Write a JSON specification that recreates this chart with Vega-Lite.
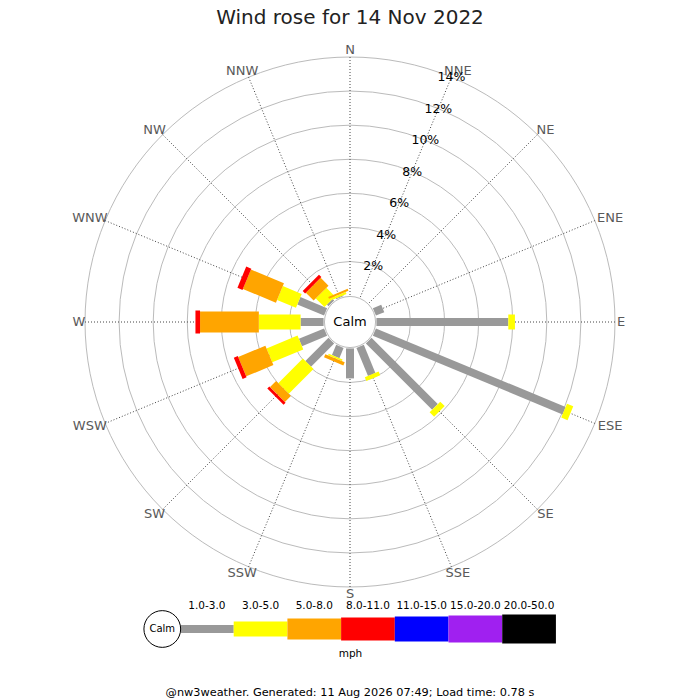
{
  "$schema": "https://vega.github.io/schema/vega-lite/v6.json",
  "description": "Wind rose for one day: share of time by direction and wind speed band",
  "background": "white",
  "padding": {"top": 8, "left": 0, "right": 0, "bottom": 0},
  "spacing": 0,
  "config": {"font": "DejaVu Sans", "view": {"stroke": null}},

  "datasets": {
    "dirs": [
      {"dir": "N", "b": 0}, {"dir": "NNE", "b": 22.5}, {"dir": "NE", "b": 45}, {"dir": "ENE", "b": 67.5},
      {"dir": "E", "b": 90}, {"dir": "ESE", "b": 112.5}, {"dir": "SE", "b": 135}, {"dir": "SSE", "b": 157.5},
      {"dir": "S", "b": 180}, {"dir": "SSW", "b": 202.5}, {"dir": "SW", "b": 225}, {"dir": "WSW", "b": 247.5},
      {"dir": "W", "b": 270}, {"dir": "WNW", "b": 292.5}, {"dir": "NW", "b": 315}, {"dir": "NNW", "b": 337.5}
    ],
    "rings": [{"pct": 2}, {"pct": 4}, {"pct": 6}, {"pct": 8}, {"pct": 10}, {"pct": 12}, {"pct": 14}],
    "calm": [{"label": "Calm"}],
    "rose": [
      {"dir": "ENE", "b": 67.5, "band": "1.0-3.0", "lo": 1, "pct": 0.53},
      {"dir": "E", "b": 90, "band": "1.0-3.0", "lo": 1, "pct": 7.74},
      {"dir": "E", "b": 90, "band": "3.0-5.0", "lo": 3, "pct": 0.39},
      {"dir": "ESE", "b": 112.5, "band": "1.0-3.0", "lo": 1, "pct": 12.05},
      {"dir": "ESE", "b": 112.5, "band": "3.0-5.0", "lo": 3, "pct": 0.4},
      {"dir": "SE", "b": 135, "band": "1.0-3.0", "lo": 1, "pct": 5.5},
      {"dir": "SE", "b": 135, "band": "3.0-5.0", "lo": 3, "pct": 0.37},
      {"dir": "SSE", "b": 157.5, "band": "1.0-3.0", "lo": 1, "pct": 1.78},
      {"dir": "SSE", "b": 157.5, "band": "3.0-5.0", "lo": 3, "pct": 0.24},
      {"dir": "S", "b": 180, "band": "1.0-3.0", "lo": 1, "pct": 1.76},
      {"dir": "SSW", "b": 202.5, "band": "1.0-3.0", "lo": 1, "pct": 0.65},
      {"dir": "SSW", "b": 202.5, "band": "3.0-5.0", "lo": 3, "pct": 0.1},
      {"dir": "SSW", "b": 202.5, "band": "5.0-8.0", "lo": 5, "pct": 0.2},
      {"dir": "SW", "b": 225, "band": "1.0-3.0", "lo": 1, "pct": 1.92},
      {"dir": "SW", "b": 225, "band": "3.0-5.0", "lo": 3, "pct": 2.05},
      {"dir": "SW", "b": 225, "band": "5.0-8.0", "lo": 5, "pct": 0.5},
      {"dir": "SW", "b": 225, "band": "8.0-11.0", "lo": 8, "pct": 0.17},
      {"dir": "WSW", "b": 247.5, "band": "1.0-3.0", "lo": 1, "pct": 1.6},
      {"dir": "WSW", "b": 247.5, "band": "3.0-5.0", "lo": 3, "pct": 1.97},
      {"dir": "WSW", "b": 247.5, "band": "5.0-8.0", "lo": 5, "pct": 1.73},
      {"dir": "WSW", "b": 247.5, "band": "8.0-11.0", "lo": 8, "pct": 0.25},
      {"dir": "W", "b": 270, "band": "1.0-3.0", "lo": 1, "pct": 1.35},
      {"dir": "W", "b": 270, "band": "3.0-5.0", "lo": 3, "pct": 2.45},
      {"dir": "W", "b": 270, "band": "5.0-8.0", "lo": 5, "pct": 3.45},
      {"dir": "W", "b": 270, "band": "8.0-11.0", "lo": 8, "pct": 0.27},
      {"dir": "WNW", "b": 292.5, "band": "1.0-3.0", "lo": 1, "pct": 1.7},
      {"dir": "WNW", "b": 292.5, "band": "3.0-5.0", "lo": 3, "pct": 1.2},
      {"dir": "WNW", "b": 292.5, "band": "5.0-8.0", "lo": 5, "pct": 2.1},
      {"dir": "WNW", "b": 292.5, "band": "8.0-11.0", "lo": 8, "pct": 0.32},
      {"dir": "NW", "b": 315, "band": "1.0-3.0", "lo": 1, "pct": 0.13},
      {"dir": "NW", "b": 315, "band": "3.0-5.0", "lo": 3, "pct": 0.72},
      {"dir": "NW", "b": 315, "band": "5.0-8.0", "lo": 5, "pct": 0.65},
      {"dir": "NW", "b": 315, "band": "8.0-11.0", "lo": 8, "pct": 0.2},
      {"dir": "NNW", "b": 337.5, "band": "1.0-3.0", "lo": 1, "pct": 0.05},
      {"dir": "NNW", "b": 337.5, "band": "3.0-5.0", "lo": 3, "pct": 0.13},
      {"dir": "NNW", "b": 337.5, "band": "5.0-8.0", "lo": 5, "pct": 0.12}
    ],
    "bands": [
      {"band": "1.0-3.0", "k": 0}, {"band": "3.0-5.0", "k": 1}, {"band": "5.0-8.0", "k": 2},
      {"band": "8.0-11.0", "k": 3}, {"band": "11.0-15.0", "k": 4}, {"band": "15.0-20.0", "k": 5},
      {"band": "20.0-50.0", "k": 6}
    ]
  },

  "vconcat": [
    {
      "width": 700,
      "height": 563,
      "title": {"text": "Wind rose for 14 Nov 2022", "fontSize": 20, "fontWeight": "normal", "color": "#222222", "anchor": "middle", "offset": 6},
      "layer": [
        {
          "data": {"name": "rings"},
          "transform": [
            {"calculate": "datum.pct + 1.55", "as": "u"},
            {"calculate": "0", "as": "cx"},
            {"calculate": "0", "as": "cy"}
          ],
          "mark": {"type": "point", "shape": "circle", "filled": false, "color": "#bbbbbb", "strokeWidth": 1, "opacity": 1},
          "encoding": {
            "x": {"field": "cx", "type": "quantitative", "scale": {"domain": [-20.54, 20.54], "nice": false, "zero": false}, "axis": null},
            "y": {"field": "cy", "type": "quantitative", "scale": {"domain": [-16.138, 16.901], "nice": false, "zero": false}, "axis": null},
            "size": {"field": "u", "type": "quantitative", "scale": {"type": "pow", "exponent": 2, "domain": [0, 16.637], "range": [0, 321489], "zero": true, "nice": false}, "legend": null}
          }
        },
        {
          "data": {"name": "dirs"},
          "transform": [
            {"calculate": "0", "as": "cx"},
            {"calculate": "0", "as": "cy"},
            {"calculate": "15.55 * sin(datum.b * PI / 180)", "as": "sx"},
            {"calculate": "15.55 * cos(datum.b * PI / 180)", "as": "sy"}
          ],
          "mark": {"type": "rule", "color": "#444444", "strokeWidth": 1, "strokeDash": [1, 2]},
          "encoding": {
            "x": {"field": "cx", "type": "quantitative", "scale": {"domain": [-20.54, 20.54], "nice": false, "zero": false}, "axis": null},
            "y": {"field": "cy", "type": "quantitative", "scale": {"domain": [-16.138, 16.901], "nice": false, "zero": false}, "axis": null},
            "x2": {"field": "sx"},
            "y2": {"field": "sy"}
          }
        },
        {
          "data": {"name": "dirs"},
          "transform": [
            {"calculate": "(15.61 + 0.305 * length(datum.dir)) * sin(datum.b * PI / 180)", "as": "lx"},
            {"calculate": "15.96 * cos(datum.b * PI / 180)", "as": "ly"}
          ],
          "mark": {"type": "text", "fontSize": 13, "color": "#5a5a5a", "align": "center", "baseline": "middle"},
          "encoding": {
            "x": {"field": "lx", "type": "quantitative", "scale": {"domain": [-20.54, 20.54], "nice": false, "zero": false}, "axis": null},
            "y": {"field": "ly", "type": "quantitative", "scale": {"domain": [-16.138, 16.901], "nice": false, "zero": false}, "axis": null},
            "text": {"field": "dir"}
          }
        },
        {
          "data": {"name": "rose"},
          "transform": [
            {"window": [{"op": "sum", "field": "pct", "as": "cum"}], "groupby": ["dir"], "sort": [{"field": "lo"}], "frame": [null, 0]},
            {"calculate": "datum.cum - datum.pct + 1.55", "as": "r1"},
            {"calculate": "datum.cum + 1.55", "as": "r2"},
            {"calculate": "datum.r1 * sin(datum.b * PI / 180)", "as": "bx"},
            {"calculate": "datum.r1 * cos(datum.b * PI / 180)", "as": "by"},
            {"calculate": "datum.r2 * sin(datum.b * PI / 180)", "as": "ex"},
            {"calculate": "datum.r2 * cos(datum.b * PI / 180)", "as": "ey"}
          ],
          "mark": {"type": "rule", "strokeCap": "butt"},
          "encoding": {
            "x": {"field": "bx", "type": "quantitative", "scale": {"domain": [-20.54, 20.54], "nice": false, "zero": false}, "axis": null},
            "y": {"field": "by", "type": "quantitative", "scale": {"domain": [-16.138, 16.901], "nice": false, "zero": false}, "axis": null},
            "x2": {"field": "ex"},
            "y2": {"field": "ey"},
            "color": {
              "field": "band", "type": "nominal", "legend": null,
              "scale": {
                "domain": ["1.0-3.0", "3.0-5.0", "5.0-8.0", "8.0-11.0", "11.0-15.0", "15.0-20.0", "20.0-50.0"],
                "range": ["#999999", "#ffff00", "#ffa500", "#ff0000", "#0000ff", "#a020f0", "#000000"]
              }
            },
            "strokeWidth": {
              "field": "band", "type": "nominal", "legend": null,
              "scale": {
                "type": "ordinal",
                "domain": ["1.0-3.0", "3.0-5.0", "5.0-8.0", "8.0-11.0", "11.0-15.0", "15.0-20.0", "20.0-50.0"],
                "range": [8, 15, 21, 23, 25, 27, 29]
              }
            }
          }
        },
        {
          "data": {"name": "calm"},
          "transform": [
            {"calculate": "1.5", "as": "u"},
            {"calculate": "0", "as": "cx"},
            {"calculate": "0", "as": "cy"}
          ],
          "mark": {"type": "point", "shape": "circle", "filled": true, "fill": "white", "stroke": "#bbbbbb", "strokeWidth": 1, "opacity": 1},
          "encoding": {
            "x": {"field": "cx", "type": "quantitative", "scale": {"domain": [-20.54, 20.54], "nice": false, "zero": false}, "axis": null},
            "y": {"field": "cy", "type": "quantitative", "scale": {"domain": [-16.138, 16.901], "nice": false, "zero": false}, "axis": null},
            "size": {"field": "u", "type": "quantitative", "scale": {"type": "pow", "exponent": 2, "domain": [0, 16.637], "range": [0, 321489], "zero": true, "nice": false}, "legend": null}
          }
        },
        {
          "data": {"name": "calm"},
          "transform": [
            {"calculate": "0", "as": "cx"},
            {"calculate": "0", "as": "cy"}
          ],
          "mark": {"type": "text", "fontSize": 13, "color": "#000000", "align": "center", "baseline": "middle"},
          "encoding": {
            "x": {"field": "cx", "type": "quantitative", "scale": {"domain": [-20.54, 20.54], "nice": false, "zero": false}, "axis": null},
            "y": {"field": "cy", "type": "quantitative", "scale": {"domain": [-16.138, 16.901], "nice": false, "zero": false}, "axis": null},
            "text": {"field": "label"}
          }
        },
        {
          "data": {"name": "rings"},
          "transform": [
            {"calculate": "datum.pct + 1.55", "as": "u"},
            {"calculate": "datum.u * sin(22.5 * PI / 180)", "as": "lx"},
            {"calculate": "datum.u * cos(22.5 * PI / 180)", "as": "ly"},
            {"calculate": "datum.pct + '%'", "as": "lab"}
          ],
          "mark": {"type": "text", "fontSize": 12.5, "color": "#000000", "align": "center", "baseline": "middle"},
          "encoding": {
            "x": {"field": "lx", "type": "quantitative", "scale": {"domain": [-20.54, 20.54], "nice": false, "zero": false}, "axis": null},
            "y": {"field": "ly", "type": "quantitative", "scale": {"domain": [-16.138, 16.901], "nice": false, "zero": false}, "axis": null},
            "text": {"field": "lab"}
          }
        }
      ]
    },
    {
      "width": 700,
      "height": 30,
      "title": {"text": "@nw3weather. Generated: 11 Aug 2026 07:49; Load time: 0.78 s", "orient": "bottom", "anchor": "middle", "fontSize": 11.3, "fontWeight": "normal", "color": "#000000", "offset": 28},
      "layer": [
        {
          "data": {"name": "bands"},
          "transform": [{"calculate": "datum.k + 1", "as": "k1"}],
          "mark": {"type": "rule", "strokeCap": "butt"},
          "encoding": {
            "x": {"field": "k", "type": "quantitative", "scale": {"domain": [-3.352, 9.683], "nice": false, "zero": false},
                  "axis": {"orient": "bottom", "title": "mph", "labels": false, "ticks": false, "domain": false, "grid": false, "titleFontSize": 10.5, "titleFontWeight": "normal", "titleColor": "#000000", "titlePadding": 4}},
            "x2": {"field": "k1"},
            "color": {
              "field": "band", "type": "nominal", "legend": null,
              "scale": {
                "domain": ["1.0-3.0", "3.0-5.0", "5.0-8.0", "8.0-11.0", "11.0-15.0", "15.0-20.0", "20.0-50.0"],
                "range": ["#999999", "#ffff00", "#ffa500", "#ff0000", "#0000ff", "#a020f0", "#000000"]
              }
            },
            "strokeWidth": {
              "field": "band", "type": "nominal", "legend": null,
              "scale": {
                "type": "ordinal",
                "domain": ["1.0-3.0", "3.0-5.0", "5.0-8.0", "8.0-11.0", "11.0-15.0", "15.0-20.0", "20.0-50.0"],
                "range": [8, 15, 21, 23, 25, 27, 29]
              }
            }
          }
        },
        {
          "data": {"name": "bands"},
          "transform": [{"calculate": "datum.k + 0.5", "as": "mid"}],
          "mark": {"type": "text", "fontSize": 10.5, "color": "#000000", "dy": -23},
          "encoding": {
            "x": {"field": "mid", "type": "quantitative", "scale": {"domain": [-3.352, 9.683], "nice": false, "zero": false},
                  "axis": {"orient": "bottom", "title": "mph", "labels": false, "ticks": false, "domain": false, "grid": false, "titleFontSize": 10.5, "titleFontWeight": "normal", "titleColor": "#000000", "titlePadding": 4}},
            "text": {"field": "band"}
          }
        },
        {
          "data": {"name": "calm"},
          "transform": [{"calculate": "-0.33", "as": "cx"}],
          "mark": {"type": "point", "shape": "circle", "size": 1350, "filled": true, "fill": "white", "stroke": "#000000", "strokeWidth": 1, "opacity": 1},
          "encoding": {
            "x": {"field": "cx", "type": "quantitative", "scale": {"domain": [-3.352, 9.683], "nice": false, "zero": false},
                  "axis": {"orient": "bottom", "title": "mph", "labels": false, "ticks": false, "domain": false, "grid": false, "titleFontSize": 10.5, "titleFontWeight": "normal", "titleColor": "#000000", "titlePadding": 4}}
          }
        },
        {
          "data": {"name": "calm"},
          "transform": [{"calculate": "-0.33", "as": "cx"}],
          "mark": {"type": "text", "fontSize": 10, "color": "#000000"},
          "encoding": {
            "x": {"field": "cx", "type": "quantitative", "scale": {"domain": [-3.352, 9.683], "nice": false, "zero": false},
                  "axis": {"orient": "bottom", "title": "mph", "labels": false, "ticks": false, "domain": false, "grid": false, "titleFontSize": 10.5, "titleFontWeight": "normal", "titleColor": "#000000", "titlePadding": 4}},
            "text": {"field": "label"}
          }
        }
      ]
    }
  ]
}
